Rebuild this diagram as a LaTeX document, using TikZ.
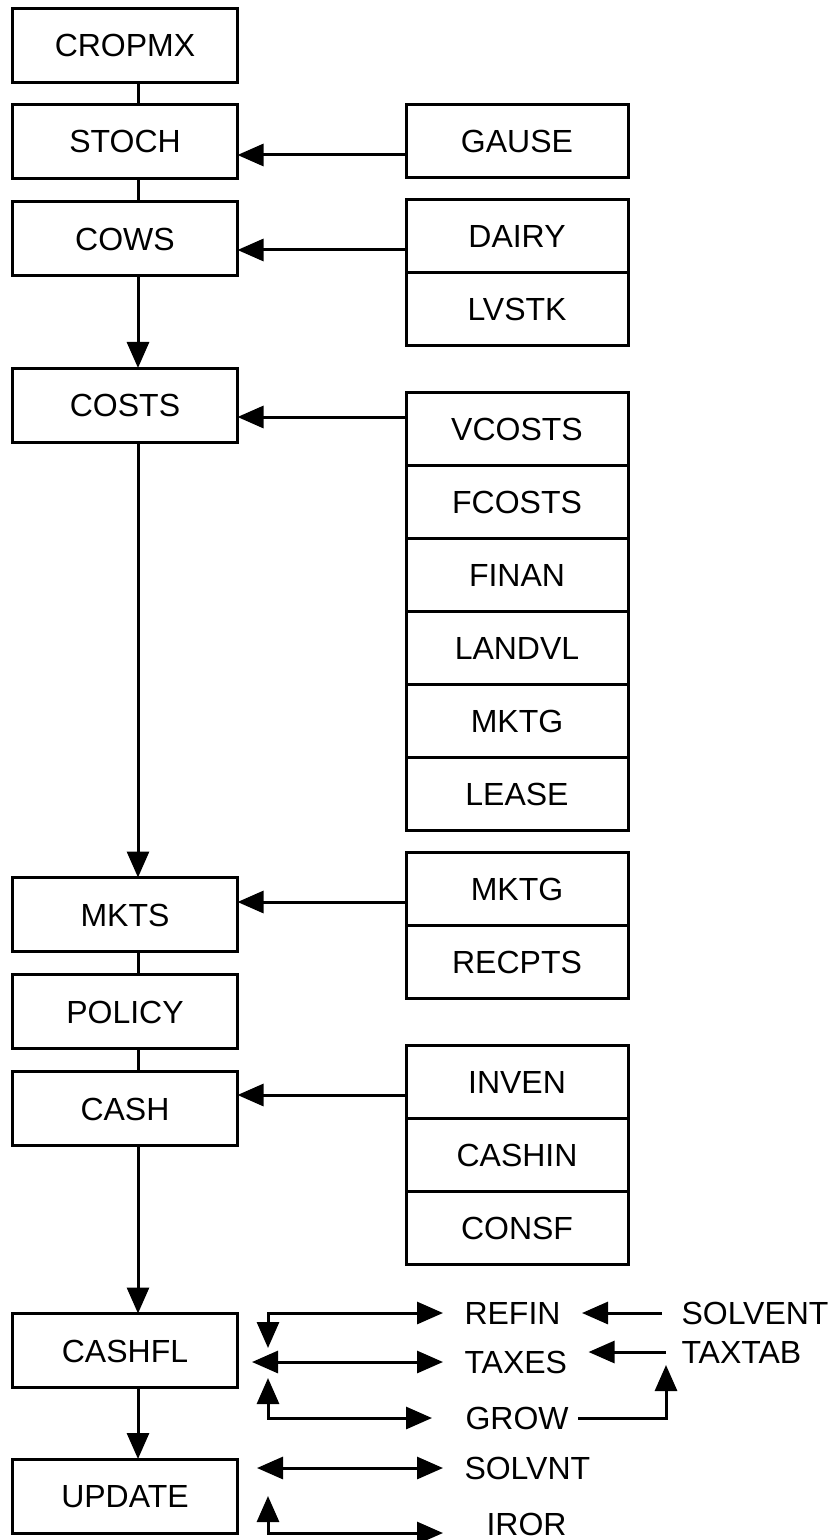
\documentclass[tikz,border=0pt]{standalone}
\usepackage{fontspec}
\setmainfont{Liberation Sans}
\usetikzlibrary{arrows.meta,positioning}

\begin{document}
\begin{tikzpicture}[x=0.5pt, y=-0.5pt, >={Triangle[length=13pt,width=11pt]},
		font=\fontsize{16}{19}\selectfont, line width=1.5pt,
		box/.style={draw, minimum width=112.5pt, minimum height=37pt, inner sep=0pt, outer sep=0pt, text height=11.5pt, text depth=0pt},
		cell/.style={box, minimum width=111pt, minimum height=36.5pt},
		word/.style={anchor=west, inner ysep=0pt, inner xsep=10pt, text height=11.5pt, text depth=0pt}]
	\useasboundingbox (0,0) rectangle (839,1540);
	\coordinate (spine) at (138,0);
	% main program chain
	\node[box] (cropmx) at (125,45.5) {CROPMX};
	\node[box] (stoch) at (125,141.5) {STOCH};
	\node[box] (cows) at (125,239) {COWS};
	\node[box] (costs) at (125,405) {COSTS};
	\node[box] (mkts) at (125,914.5) {MKTS};
	\node[box] (policy) at (125,1011.5) {POLICY};
	\node[box] (cash) at (125,1108.5) {CASH};
	\node[box] (cashfl) at (125,1350.5) {CASHFL};
	\node[box] (update) at (125,1496) {UPDATE};
	% subroutines
	\node[cell] (gause) at (517,141) {GAUSE};
	\node[cell] (dairy) at (517,236.5) {DAIRY};
	\node[cell, below=0pt of dairy] (lvstk) {LVSTK};
	\node[cell] (vcosts) at (517,429) {VCOSTS};
	\node[cell, below=0pt of vcosts] (fcosts) {FCOSTS};
	\node[cell, below=0pt of fcosts] (finan) {FINAN};
	\node[cell, below=0pt of finan] (landvl) {LANDVL};
	\node[cell, below=0pt of landvl] (mktga) {MKTG};
	\node[cell, below=0pt of mktga] (lease) {LEASE};
	\node[cell] (mktgb) at (517,889) {MKTG};
	\node[cell, below=0pt of mktgb] (recpts) {RECPTS};
	\node[cell] (inven) at (517,1082) {INVEN};
	\node[cell, below=0pt of inven] (cashin) {CASHIN};
	\node[cell, below=0pt of cashin] (consf) {CONSF};
	% bottom routines
	\node[word] (refin) at (443,1313) {REFIN};
	\node[word] (taxes) at (443,1362) {TAXES};
	\node[word, inner xsep=4pt] (grow) at (456,1418) {GROW};
	\node[word] (solvnt) at (443,1468) {SOLVNT};
	\node[word, inner xsep=21pt] (iror) at (443,1524) {IROR};
	\node[word, inner xsep=9pt] (solvent) at (662,1313) {SOLVENT};
	\node[word, inner xsep=7pt] (taxtab) at (666,1352) {TAXTAB};
	\coordinate (fl1) at (268,1348);
	\coordinate (fl2) at (252,1362);
	\coordinate (fl3) at (268,1378);
	\coordinate (up1) at (257,1468);
	\coordinate (up2) at (268,1496);
	% links
	\draw (cropmx.south -| spine) -- (stoch.north -| spine);
	\draw (stoch.south -| spine) -- (cows.north -| spine);
	\draw[->] (cows.south -| spine) -- (costs.north -| spine);
	\draw[->] (costs.south -| spine) -- (mkts.north -| spine);
	\draw (mkts.south -| spine) -- (policy.north -| spine);
	\draw (policy.south -| spine) -- (cash.north -| spine);
	\draw[->] (cash.south -| spine) -- (cashfl.north -| spine);
	\draw[->] (cashfl.south -| spine) -- (update.north -| spine);
	\draw[->] (gause.west |- 0,155) -- (stoch.east |- 0,155);
	\draw[->] (dairy.west |- 0,250) -- (cows.east |- 0,250);
	\draw[->] (vcosts.west |- 0,417) -- (costs.east |- 0,417);
	\draw[->] (mktgb.west |- 0,902) -- (mkts.east |- 0,902);
	\draw[->] (inven.west |- 0,1095) -- (cash.east |- 0,1095);
	\draw[<->] (fl1) |- (refin.west);
	\draw[<->] (fl2) -- (taxes.west);
	\draw[<->, shorten >=12pt] (fl3) |- (grow.west);
	\draw[<->] (up1) -- (solvnt.west);
	\draw[<->] (up2) |- ([yshift=-4.5pt]iror.west);
	\draw[->] (solvent.west) -- (refin.east);
	\draw[->] (taxtab.west) -- (taxes.east |- taxtab.west);
	\draw[->] (grow.east) -| ([yshift=-6.5pt]taxtab.west);
\end{tikzpicture}
\end{document}
